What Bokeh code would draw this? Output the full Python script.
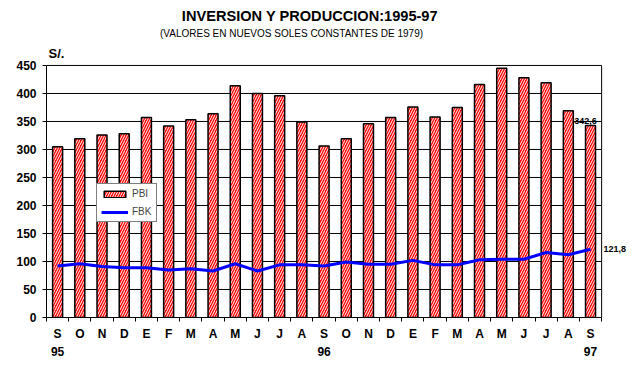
from bokeh.plotting import figure
from bokeh.models import (Range1d, FixedTicker, LinearAxis, Label, Legend, LegendItem,
                          ColumnDataSource)
from bokeh.embed import file_html
from bokeh.resources import INLINE

months = ["S", "O", "N", "D", "E", "F", "M", "A", "M", "J", "J", "A",
          "S", "O", "N", "D", "E", "F", "M", "A", "M", "J", "J", "A", "S"]
years = ["95", "96", "97"]
year_index = [0, 12, 24]
pbi = [305, 319, 326, 328, 357, 342, 353, 364, 414, 400, 396, 349,
       306, 319, 346, 357, 376, 358, 375, 416, 445, 428, 419, 369, 342.6]
fbk = [92, 96, 91, 89, 89, 85, 87, 83, 96, 83, 94, 94,
       92, 99, 95, 95, 102, 94, 94, 103, 104, 104, 116, 112, 121.8]
yticks = [0, 50, 100, 150, 200, 250, 300, 350, 400, 450]

n = len(months)
xs = [i + 0.5 for i in range(n)]
src = ColumnDataSource(dict(x=xs, pbi=pbi, fbk=fbk))

FONT = "Liberation Sans"

p = figure(width=630, height=360, output_backend="svg", toolbar_location=None,
           x_range=Range1d(0, 26.3), y_range=Range1d(0, 566),
           min_border_left=46, min_border_right=0, min_border_top=0, min_border_bottom=43,
           background_fill_color="white", border_fill_color="white")
p.outline_line_color = None
p.xgrid.grid_line_color = None
p.ygrid.grid_line_color = None

# grid lines and right border of the plot box
p.segment(x0=[0] * len(yticks), x1=[n] * len(yticks), y0=yticks, y1=yticks,
          line_color="black", line_width=1)
p.segment(x0=[n], x1=[n], y0=[0], y1=[yticks[-1]], line_color="black", line_width=1)

bars = p.vbar(x="x", top="pbi", width=0.45, source=src, fill_color="#FF0000",
              line_color="black", line_width=1.5,
              hatch_pattern="/", hatch_color="white", hatch_scale=5, hatch_weight=1)
ln = p.line(x="x", y="fbk", source=src, line_color="#0000FF", line_width=3)

# x axis (months)
p.xaxis.bounds = (0, n)
p.xaxis.ticker = FixedTicker(ticks=xs, minor_ticks=list(range(n + 1)))
p.xaxis.major_label_overrides = {x: m for x, m in zip(xs, months)}
p.xaxis.major_tick_out = 0
p.xaxis.major_tick_in = 0
p.xaxis.minor_tick_out = 4
p.xaxis.minor_tick_in = 0
p.xaxis.minor_tick_line_color = "black"
p.xaxis.major_label_standoff = 5
p.xaxis.axis_label_standoff = 0
p.xaxis.major_label_text_font = FONT
p.xaxis.major_label_text_font_style = "bold"
p.xaxis.major_label_text_font_size = "12px"
p.xaxis.major_label_text_line_height = 1.0
p.xaxis.major_label_text_color = "black"
p.xaxis.axis_line_color = "black"

# second row: years
yr = LinearAxis(ticker=FixedTicker(ticks=[xs[i] for i in year_index]),
                major_label_overrides={xs[i]: y for i, y in zip(year_index, years)},
                axis_line_color=None, major_tick_line_color=None, minor_tick_line_color=None,
                major_tick_out=0, minor_tick_out=0, axis_label_standoff=0,
                major_label_standoff=3, major_label_text_font=FONT,
                major_label_text_font_style="bold", major_label_text_font_size="12px",
                major_label_text_line_height=1.0, major_label_text_color="black")
p.add_layout(yr, "below")

# y axis
p.yaxis.bounds = (0, yticks[-1])
p.yaxis.ticker = FixedTicker(ticks=yticks)
p.yaxis.major_tick_out = 4
p.yaxis.major_tick_in = 0
p.yaxis.minor_tick_line_color = None
p.yaxis.major_label_standoff = 6
p.yaxis.axis_label_standoff = 0
p.yaxis.major_label_text_font = FONT
p.yaxis.major_label_text_font_style = "bold"
p.yaxis.major_label_text_font_size = "12px"
p.yaxis.major_label_text_color = "black"
p.yaxis.axis_line_color = "black"

# legend
legend = Legend(items=[LegendItem(label="PBI", renderers=[bars]),
                       LegendItem(label="FBK", renderers=[ln])],
                location=(50, 95), orientation="vertical",
                border_line_color="black", border_line_width=1,
                background_fill_color="white", background_fill_alpha=1,
                glyph_width=27, glyph_height=8, label_height=8, spacing=7,
                padding=4, margin=0, label_standoff=4,
                label_text_font=FONT, label_text_font_size="10px")
p.add_layout(legend, "center")

# titles
p.add_layout(Label(x=263.5, y=301.5, x_units="screen", y_units="screen",
                   text="INVERSION Y PRODUCCION:1995-97", text_font=FONT,
                   text_font_style="bold", text_font_size="14.6px",
                   text_align="center", text_baseline="middle", text_color="black"))
p.add_layout(Label(x=245, y=284, x_units="screen", y_units="screen",
                   text="(VALORES EN NUEVOS SOLES CONSTANTES DE 1979)", text_font=FONT,
                   text_font_size="10px", text_align="center", text_baseline="middle",
                   text_color="black"))
p.add_layout(Label(x=2, y=264.5, x_units="screen", y_units="screen",
                   text="S/.", text_font=FONT, text_font_style="bold",
                   text_font_size="13px", text_align="left", text_baseline="middle",
                   text_color="black"))

# end value labels
p.add_layout(Label(x=xs[-1], y=pbi[-1], x_offset=-5, y_offset=5,
                   text=f"{pbi[-1]:.1f}".replace(".", ","), text_font=FONT,
                   text_font_style="bold", text_font_size="9px",
                   text_align="center", text_baseline="middle", text_color="black"))
p.add_layout(Label(x=xs[-1], y=fbk[-1], x_offset=13, y_offset=0,
                   text=f"{fbk[-1]:.1f}".replace(".", ","), text_font=FONT,
                   text_font_style="bold", text_font_size="9px",
                   text_align="left", text_baseline="middle", text_color="black"))

open("out.html", "w").write(file_html(p, INLINE))
